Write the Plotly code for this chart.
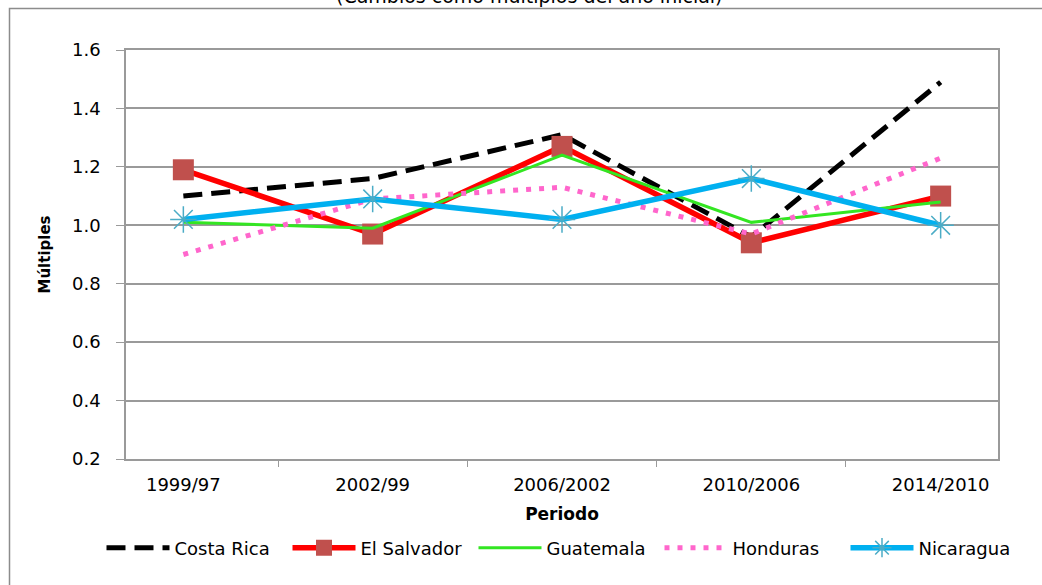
import plotly.graph_objects as go

periods = ["1999/97", "2002/99", "2006/2002", "2010/2006", "2014/2010"]
costa_rica = [1.10, 1.16, 1.31, 0.96, 1.49]
el_salvador = [1.19, 0.97, 1.27, 0.94, 1.10]
guatemala = [1.01, 0.99, 1.24, 1.01, 1.08]
honduras = [0.90, 1.09, 1.13, 0.97, 1.23]
nicaragua = [1.02, 1.09, 1.02, 1.16, 1.00]

FONT = "DejaVu Sans"
GRID = "#9a9a9a"

fig = go.Figure()
fig.add_trace(go.Scatter(x=periods, y=costa_rica, name="Costa Rica", mode="lines",
                         line=dict(color="#000000", width=5, dash="19px,9px")))
fig.add_trace(go.Scatter(x=periods, y=el_salvador, name="El Salvador", mode="lines+markers",
                         line=dict(color="#FF0000", width=5.5),
                         marker=dict(symbol="square", size=21, color="#C0504D",
                                     line=dict(width=0))))
fig.add_trace(go.Scatter(x=periods, y=guatemala, name="Guatemala", mode="lines",
                         line=dict(color="#33E622", width=3)))
fig.add_trace(go.Scatter(x=periods, y=honduras, name="Honduras", mode="lines",
                         line=dict(color="#FF66CC", width=5, dash="5px,8px")))
fig.add_trace(go.Scatter(x=periods, y=nicaragua, name="Nicaragua", mode="lines+markers",
                         line=dict(color="#00B0F0", width=5.5),
                         marker=dict(symbol="asterisk-open", size=22, color="#4BACC6",
                                     line=dict(width=1.5, color="#4BACC6"))))

fig.update_layout(
    width=1042, height=585,
    margin=dict(l=126, r=44, t=50, b=126),
    paper_bgcolor="white", plot_bgcolor="white",
    font=dict(family=FONT, size=18, color="#000000"),
    showlegend=True,
    legend=dict(orientation="h", x=-0.0281, y=-0.2176, xanchor="left", yanchor="middle",
                font=dict(family=FONT, size=18), itemwidth=63,
                entrywidth=108, entrywidthmode="pixels",
                bgcolor="rgba(0,0,0,0)", traceorder="normal"),
    shapes=[dict(type="rect", xref="paper", yref="paper",
                 x0=-0.1336, x1=1.06, y0=-0.35, y1=1.1015,
                 line=dict(color="#8c8c8c", width=1.5), layer="below")],
    annotations=[dict(text="(Cambios como múltiplos del año inicial)", xref="paper", yref="paper",
                      x=0.463, y=1.131, xanchor="center", yanchor="middle", showarrow=False,
                      font=dict(family=FONT, size=19))],
)

fig.update_xaxes(
    type="category", tickson="boundaries", ticks="outside", ticklen=6, tickcolor=GRID,
    showline=True, linecolor=GRID, linewidth=1.5, mirror=True, showgrid=False,
    tickfont=dict(family=FONT, size=18), ticklabelstandoff=9,
    title=dict(text="<b>Periodo</b>", font=dict(family=FONT, size=17), standoff=14),
)
fig.update_yaxes(
    range=[0.2, 1.6], dtick=0.2, tickformat=".1f", ticks="outside", ticklen=8, tickcolor=GRID,
    showline=True, linecolor=GRID, linewidth=1.5, mirror=True,
    showgrid=True, gridcolor=GRID, gridwidth=1.5, zeroline=False,
    tickfont=dict(family=FONT, size=18), ticklabelstandoff=12,
    title=dict(text="<b>Múltiples</b>", font=dict(family=FONT, size=15), standoff=18),
)

fig.write_html("out.html", config={"displayModeBar": False},
               post_script="document.body.style.margin='0px';")
